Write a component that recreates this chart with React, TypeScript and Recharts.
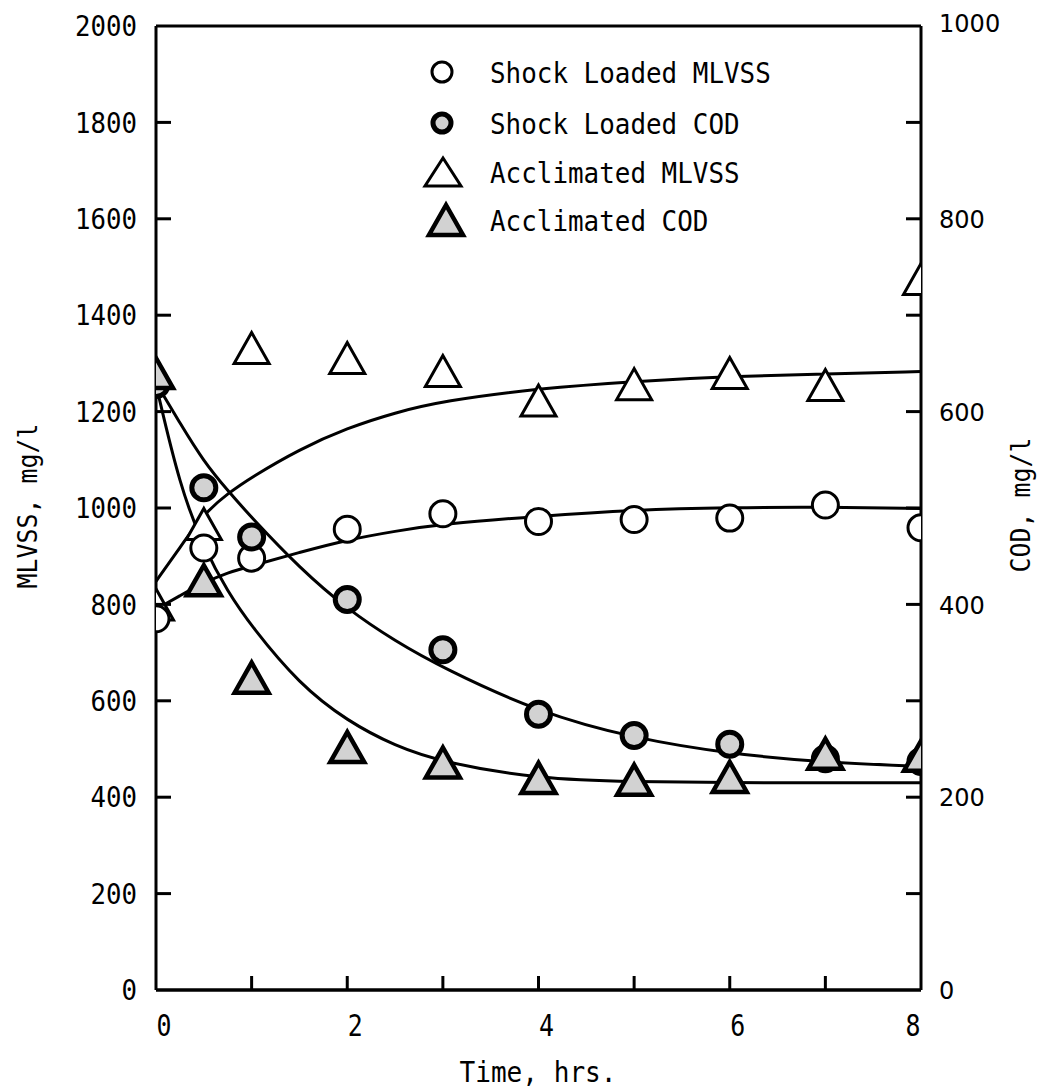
import { useId } from 'react';
import { ComposedChart, Line, Scatter, XAxis, YAxis, ReferenceLine } from 'recharts';

// measured points (hours)
const hours = [0, 0.5, 1, 2, 3, 4, 5, 6, 7, 8];
const shockMlvss = [770, 917, 896, 956, 988, 972, 976, 979, 1006, 959];
const shockCod = [628, 521, 470, 405, 353, 286, 264, 255, 240, 237];
const acclMlvss = [800, 967, 1332, 1311, 1284, 1223, 1257, 1280, 1255, 1475];
const acclCod = [640, 425, 324, 252, 236, 220, 218, 221, 245, 243];

// fitted curves
const fitHours = [0, 0.25, 0.5, 0.75, 1, 1.5, 2, 2.5, 3, 4, 5, 6, 7, 8];
const shockMlvssFit = [790, 818, 845, 866, 880, 908, 934, 952, 967, 983, 996, 1001, 1002, 999];
const acclMlvssFit = [848, 918, 988, 1030, 1064, 1122, 1166, 1198, 1222, 1248, 1263, 1273, 1278, 1283];
const shockCodFit = [630, 588, 548, 518, 490, 438, 395, 362, 334, 288, 261, 245, 236, 232];
const acclCodFit = [628, 522, 459, 413, 377, 317, 279, 253, 236, 219, 216, 215, 215, 215];

const mlvssTicks = [0, 200, 400, 600, 800, 1000, 1200, 1400, 1600, 1800, 2000];
const codTicks = [0, 100, 200, 300, 400, 500, 600, 700, 800, 900, 1000];
const timeTicks = [0, 1, 2, 3, 4, 5, 6, 7, 8];
const legendLabels = ['Shock Loaded MLVSS', 'Shock Loaded COD', 'Acclimated MLVSS', 'Acclimated COD'];

const toPoints = (xs: number[], ys: number[]) => xs.map((x, i) => ({ x, y: ys[i] }));

const MONO = '"DejaVu Sans Mono", monospace';
const GREY = '#d2d2d2';
const PLOT = { left: 156, top: 26, width: 765, height: 964 };

function TypeText({ x, y, text, anchor = 'start', size = 29, charW = 15.6, rotate = 0, family = MONO }: any) {
  const base = y + 0.365 * size;
  return (
    <text
      x={x}
      y={base}
      fontFamily={family}
      fontSize={size}
      textAnchor={anchor}
      fill="#000"
      textLength={charW ? text.length * charW : undefined}
      lengthAdjust="spacingAndGlyphs"
      transform={rotate ? `rotate(${rotate} ${x} ${y})` : undefined}
    >
      {text}
    </text>
  );
}

const OpenCircle = ({ cx, cy, r = 13 }: any) => (
  <circle cx={cx} cy={cy} r={r} fill="#fff" stroke="#000" strokeWidth={3} />
);
const DarkCircle = ({ cx, cy, r = 12 }: any) => (
  <circle cx={cx} cy={cy} r={r} fill={GREY} stroke="#000" strokeWidth={5} />
);
const triPts = (cx: number, cy: number, w: number, h: number) =>
  `${cx},${cy - h / 2} ${cx - w / 2},${cy + h / 2} ${cx + w / 2},${cy + h / 2}`;
const OpenTri = ({ cx, cy, w = 35, h = 31 }: any) => (
  <polygon points={triPts(cx, cy, w, h)} fill="#fff" stroke="#000" strokeWidth={3} />
);
const DarkTri = ({ cx, cy, w = 34, h = 30 }: any) => (
  <polygon points={triPts(cx, cy, w, h)} fill={GREY} stroke="#000" strokeWidth={4.5} />
);

// markers at 0 h and 8 h get cut by the frame, as in the original
function ClippedMark({ Mark, cx, cy }: any) {
  const id = 'pc' + useId().replace(/[^a-zA-Z0-9]/g, '');
  return (
    <g>
      <defs>
        <clipPath id={id} clipPathUnits="userSpaceOnUse">
          <rect x={PLOT.left} y={PLOT.top} width={PLOT.width} height={PLOT.height} />
        </clipPath>
      </defs>
      <g clipPath={`url(#${id})`}>
        <Mark cx={cx} cy={cy} />
      </g>
    </g>
  );
}
const clipped = (Mark: any) => (p: any) => <ClippedMark Mark={Mark} cx={p.cx} cy={p.cy} />;

const LeftTick = ({ x, y, payload }: any) => {
  const v = payload.value;
  return (
    <g>
      {v > 0 && v < 2000 && <line x1={x} x2={x + 15} y1={y} y2={y} stroke="#000" strokeWidth={3} />}
      <TypeText x={x - 19} y={y} text={String(v)} anchor="end" size={28} charW={15.5} />
    </g>
  );
};

const RightTick = ({ x, y, payload }: any) => {
  const v = payload.value;
  return (
    <g>
      {v > 0 && v < 1000 && <line x1={x} x2={x - 15} y1={y} y2={y} stroke="#000" strokeWidth={3} />}
      {v % 200 === 0 && (
        <TypeText x={x + 18} y={y - (v === 1000 ? 3 : 0)} text={String(v)} size={25} charW={15.3} family='"DejaVu Sans", sans-serif' />
      )}
    </g>
  );
};

const TimeTick = ({ x, y, payload }: any) => {
  const v = payload.value;
  return (
    <g>
      {v > 0 && v < 8 && <line x1={x} x2={x} y1={y} y2={y - 14} stroke="#000" strokeWidth={3} />}
      {v % 2 === 0 && (
        <TypeText x={x + (v === 8 ? -8 : 8)} y={y + 35} text={String(v)} anchor="middle" size={30} charW={15} />
      )}
    </g>
  );
};

export default function App() {
  return (
    <div style={{ position: 'absolute', left: 0, top: 0, width: 1044, height: 1092, background: '#fff' }}>
      <ComposedChart width={1044} height={1092} margin={{ top: 26, right: 0, bottom: 0, left: 0 }}>
        <Line yAxisId="left" data={toPoints(fitHours, acclMlvssFit)} dataKey="y" type="basis" stroke="#000" strokeWidth={3} dot={false} isAnimationActive={false} />
        <Line yAxisId="left" data={toPoints(fitHours, shockMlvssFit)} dataKey="y" type="basis" stroke="#000" strokeWidth={3} dot={false} isAnimationActive={false} />
        <Line yAxisId="right" data={toPoints(fitHours, shockCodFit)} dataKey="y" type="basis" stroke="#000" strokeWidth={3} dot={false} isAnimationActive={false} />
        <Line yAxisId="right" data={toPoints(fitHours, acclCodFit)} dataKey="y" type="basis" stroke="#000" strokeWidth={3} dot={false} isAnimationActive={false} />

        <Scatter yAxisId="left" data={toPoints(hours, acclMlvss)} dataKey="y" shape={clipped(OpenTri)} isAnimationActive={false} />
        <Scatter yAxisId="left" data={toPoints(hours, shockMlvss)} dataKey="y" shape={clipped(OpenCircle)} isAnimationActive={false} />
        <Scatter yAxisId="right" data={toPoints(hours, shockCod)} dataKey="y" shape={clipped(DarkCircle)} isAnimationActive={false} />
        <Scatter yAxisId="right" data={toPoints(hours, acclCod)} dataKey="y" shape={clipped(DarkTri)} isAnimationActive={false} />

        <XAxis
          type="number"
          dataKey="x"
          domain={[0, 8]}
          ticks={timeTicks}
          allowDataOverflow
          height={102}
          tickSize={0}
          tickMargin={0}
          tickLine={false}
          axisLine={{ stroke: '#000', strokeWidth: 3.5 }}
          tick={<TimeTick />}
          interval={0}
        />
        <YAxis
          yAxisId="left"
          dataKey="y"
          type="number"
          domain={[0, 2000]}
          ticks={mlvssTicks}
          allowDataOverflow
          width={156}
          tickSize={0}
          tickMargin={0}
          tickLine={false}
          axisLine={{ stroke: '#000', strokeWidth: 3 }}
          tick={<LeftTick />}
          interval={0}
        />
        <YAxis
          yAxisId="right"
          orientation="right"
          dataKey="y"
          type="number"
          domain={[0, 1000]}
          ticks={codTicks}
          allowDataOverflow
          width={123}
          tickSize={0}
          tickMargin={0}
          tickLine={false}
          axisLine={{ stroke: '#000', strokeWidth: 3 }}
          tick={<RightTick />}
          interval={0}
        />
        <ReferenceLine yAxisId="left" y={2000} stroke="#000" strokeWidth={3} />
      </ComposedChart>

      <svg width={1044} height={1092} style={{ position: 'absolute', left: 0, top: 0, pointerEvents: 'none' }}>
        {/* legend */}
        <OpenCircle cx={442} cy={72} r={10} />
        <DarkCircle cx={442} cy={123} r={9} />
        <OpenTri cx={443} cy={172} w={36} h={28} />
        <DarkTri cx={446} cy={220} w={34} h={30} />
        {legendLabels.map((t, i) => (
          <TypeText key={t} x={490} y={[72, 123, 172, 220][i]} text={t} size={29} charW={15.6} />
        ))}
        {/* axis titles */}
        <TypeText x={27} y={506} text="MLVSS, mg/l" anchor="middle" size={27} charW={15} rotate={-90} />
        <TypeText x={1020} y={505} text="COD, mg/l" anchor="middle" size={27} charW={15} rotate={-90} />
        <TypeText x={538} y={1071} text="Time, hrs." anchor="middle" size={29} charW={15.7} />
      </svg>
    </div>
  );
}
